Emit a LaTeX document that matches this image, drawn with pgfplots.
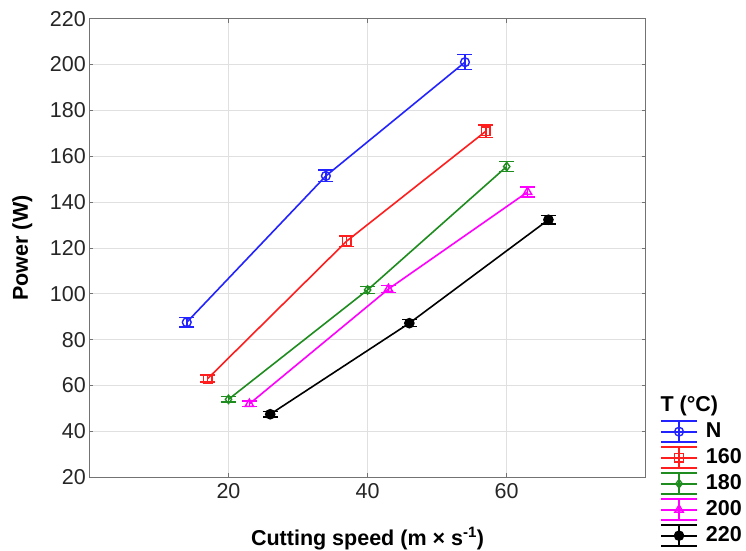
\documentclass[border=0pt]{standalone}
\usepackage{pgfplots}
\pgfplotsset{compat=1.18}
\usepackage{fontspec}
\setmainfont{Liberation Sans}
\definecolor{cN}{RGB}{35,35,255}
\definecolor{cA}{RGB}{255,30,30}
\definecolor{cB}{RGB}{30,140,30}
\definecolor{cC}{RGB}{255,0,255}
\definecolor{cD}{RGB}{0,0,0}
\pgfplotsset{ebleg/.style={legend image code/.code={
  \draw[##1, line width=1.7pt] (0pt,0pt) -- (36pt,0pt);
  \draw[##1, line width=1.7pt] (0pt,10.5pt) -- (36pt,10.5pt);
  \draw[##1, line width=1.7pt] (0pt,-10.5pt) -- (36pt,-10.5pt);
  \draw[##1, line width=1.7pt] (18pt,-10.5pt) -- (18pt,10.5pt);
  \draw[##1, line width=1.5pt] plot coordinates {(18pt,0pt)};
}}}
\pgfplotstableread{
x y e
14 87.6 2.0
34 151.4 2.5
54 201.0 3.3
}\dataN
\pgfplotstableread{
x y e
17 63.0 1.5
37 123.0 2.3
57 170.9 2.8
}\dataA
\pgfplotstableread{
x y e
20 54.0 1.2
40 101.7 1.5
60 155.5 2.2
}\dataB
\pgfplotstableread{
x y e
23 52.0 1.2
43 102.1 1.6
63 144.4 2.2
}\dataC
\pgfplotstableread{
x y e
26 47.5 1.2
46 87.2 1.5
66 132.3 1.8
}\dataD
\begin{document}
\begin{tikzpicture}[font=\fontsize{21.5}{25}\selectfont]
\useasboundingbox (-89.4pt,-72.7pt) rectangle (656.6pt,477.3pt);
\begin{axis}[
  scale only axis, width=556.4pt, height=458.7pt,
  xmin=0, xmax=80, ymin=20, ymax=220,
  xtick={20,40,60}, ytick={20,40,...,220},
  grid=major, grid style={draw=black!12, line width=0.9pt},
  axis line style={draw=black!55, line width=1.3pt},
  tick align=inside, major tick length=4pt,
  tick style={draw=black!55, line width=0.9pt},
  /pgf/number format/assume math mode=true,
  ticklabel style={font=\fontsize{21.5}{25}\selectfont, text=black!85},
  xticklabel style={yshift=-3pt},
  xlabel={\textbf{Cutting speed (m × s\textsuperscript{-1})}},
  ylabel={\textbf{Power (W)}},
  xlabel style={at={(axis description cs:0.5,-0.1476)}, anchor=base},
  ylabel style={at={(axis description cs:-0.1104,0.5)}, anchor=base},
  legend style={name=leg, draw=none, fill=none,
    at={(axis description cs:1.0255,0.125)}, anchor=north west,
    inner sep=0pt, row sep=3pt, column sep=7pt,
    font=\bfseries\fontsize{21.5}{25}\selectfont,
    nodes={inner sep=1pt, text height=16pt, text depth=5pt}},
  legend cell align=left,
  every axis plot/.append style={line width=1.6pt, ebleg},
  error bars/y dir=both, error bars/y explicit,
  error bars/error mark options={rotate=90, mark size=7.5pt, line width=1.5pt},
  error bars/error bar style={line width=1.5pt},
]
\addplot[color=cN, mark=o, mark size=4.4pt, mark options={line width=1.4pt}] table[x=x, y=y, y error=e] {\dataN};
\addlegendentry{N}
\addplot[color=cA, mark=square, mark size=4.3pt, mark options={line width=1.4pt}] table[x=x, y=y, y error=e] {\dataA};
\addlegendentry{160}
\addplot[color=cB, mark=diamond, mark size=4.2pt, mark options={line width=1.4pt}] table[x=x, y=y, y error=e] {\dataB};
\addlegendentry{180}
\addplot[color=cC, mark=triangle, mark size=4.8pt, mark options={line width=1.4pt}] table[x=x, y=y, y error=e] {\dataC};
\addlegendentry{200}
\addplot[color=cD, mark=*, mark size=4.5pt] table[x=x, y=y, y error=e] {\dataD};
\addlegendentry{220}
\end{axis}
\node[anchor=base west, font=\bfseries\fontsize{21.5}{25}\selectfont] at ([xshift=-3pt, yshift=8pt]leg.north west) {T (°C)};
\end{tikzpicture}
\end{document}
